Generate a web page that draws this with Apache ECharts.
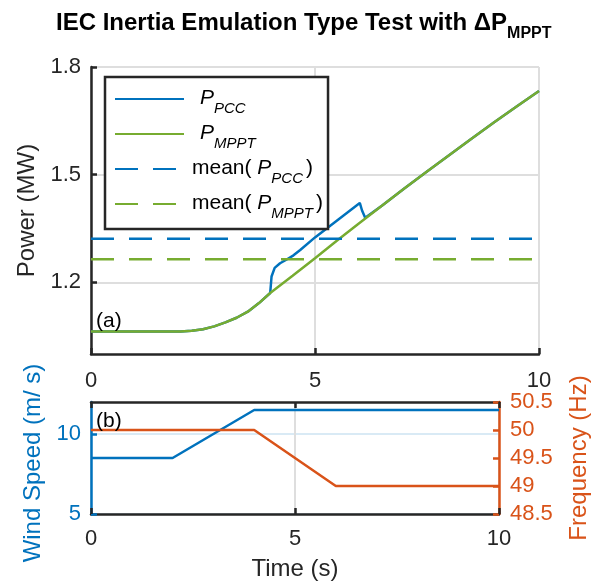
<!DOCTYPE html>
<html><head><meta charset="utf-8">
<script src="https://cdn.jsdelivr.net/npm/echarts@6/dist/echarts.min.js"></script>
<style>html,body{margin:0;padding:0;background:#fff}#c{width:603px;height:584px}</style>
</head><body><div id="c"></div>
<script>
// ---- data ----
const timeMPPT  = [0,0.5,1,1.5,2,2.25,2.5,2.75,3,3.25,3.5,3.75,4,4.5,5,5.5,6,6.5,7,7.5,8,8.5,9,9.5,10];
const powerMPPT = [1.063,1.063,1.063,1.063,1.063,1.065,1.069,1.077,1.088,1.101,1.118,1.142,1.170,1.218,1.267,1.317,1.366,1.414,1.462,1.509,1.555,1.601,1.646,1.690,1.733];
const timePCC   = [0,0.5,1,1.5,2,2.25,2.5,2.75,3,3.25,3.5,3.75,4,4.03,4.1,4.22,4.35,4.52,4.67,5,5.5,6,6.05,6.12,6.5,7,7.5,8,8.5,9,9.5,10];
const powerPCC  = [1.063,1.063,1.063,1.063,1.063,1.065,1.069,1.077,1.088,1.101,1.118,1.142,1.170,1.216,1.240,1.253,1.262,1.275,1.290,1.325,1.373,1.421,1.400,1.380,1.414,1.462,1.509,1.555,1.601,1.646,1.690,1.733];
const meanTime  = [0,10];
const meanPCC   = [1.321,1.321];
const meanMPPT  = [1.264,1.264];
const windTime  = [0,2,4,10];
const windSpeed = [8.5,8.5,11.5,11.5];
const freqTime  = [0,4,6,10];
const frequency = [50,50,49,49];
const powerTicks = [1.2,1.5,1.8];
const windTicks  = [5,10];

// ---- style ----
const blue='#0072BD', green='#77AC30', orange='#D95319', dark='#262626';
const gridGray='#dedede', gridBlue='#d9eaf5';
const F='"Liberation Sans", Arial, Helvetica, sans-serif';
const TS=22, NS=24, LS=21, LW=2.5, AW=2.5;
const pairs=(xs,ys)=>xs.map((x,i)=>[x,ys[i]]);

const chart=echarts.init(document.getElementById('c'),null,{renderer:'canvas'});
const legendNames={PPCC:'{sp|}{i|P}{s|PCC}',PMPPT:'{sp|}{i|P}{s|MPPT}',meanPCC:'{n|mean( }{i|P}{s|PCC}{n|)}',meanMPPT:'{n|mean( }{i|P}{s|MPPT}{n|)}'};

const baseX={type:'value',min:0,max:10,interval:5};
const option={
  animation:false,
  textStyle:{fontFamily:F},
  title:{
    text:'{t|IEC Inertia Emulation Type Test with }{t|ΔP}{s|MPPT}',
    left:56, top:11, padding:0,
    textStyle:{rich:{
      t:{fontFamily:F,fontWeight:'bold',fontSize:24,color:'#000',lineHeight:26,verticalAlign:'top'},
      s:{fontFamily:F,fontWeight:'bold',fontSize:16,color:'#000',lineHeight:16,padding:[15,0,0,0],verticalAlign:'top'}
    }}
  },
  legend:{
    left:105, top:77, orient:'vertical', padding:[11,5,8,9], itemGap:7,
    itemWidth:69, itemHeight:14, backgroundColor:'#fff', borderColor:dark, borderWidth:2.5,
    selectedMode:false,
    itemStyle:{opacity:0},
    data:['PPCC','PMPPT','meanPCC','meanMPPT'],
    formatter:n=>legendNames[n],
    textStyle:{fontFamily:F,fontSize:LS,color:'#000',rich:{
      sp:{width:11,fontSize:LS,lineHeight:22},
      n:{fontFamily:F,fontSize:LS,color:'#000',lineHeight:22,verticalAlign:'top',padding:[0,0,0,3]},
      i:{fontFamily:F,fontSize:LS,fontStyle:'italic',color:'#000',lineHeight:22,verticalAlign:'top'},
      s:{fontFamily:F,fontSize:15,fontStyle:'italic',color:'#000',lineHeight:14,padding:[13,0,0,0],verticalAlign:'top'}
    }}
  },
  grid:[{left:91,right:64,top:67,bottom:230},{left:91,right:104,top:402,bottom:70}],
  xAxis:[
    Object.assign({},baseX,{gridIndex:0,position:'bottom',
      axisLine:{onZero:false,lineStyle:{color:dark,width:AW}},
      axisTick:{inside:true,length:6,lineStyle:{color:dark,width:AW}},
      axisLabel:{color:dark,fontSize:TS,fontFamily:F,margin:16},
      splitLine:{show:true,lineStyle:{color:gridGray,width:2}}}),
    Object.assign({},baseX,{gridIndex:1,position:'bottom',
      name:'Time (s)',nameLocation:'middle',nameGap:43,
      nameTextStyle:{color:dark,fontSize:NS,fontFamily:F},
      axisLine:{onZero:false,lineStyle:{color:dark,width:AW}},
      axisTick:{inside:true,length:6,lineStyle:{color:dark,width:AW}},
      axisLabel:{color:dark,fontSize:TS,fontFamily:F,margin:14},
      splitLine:{show:true,lineStyle:{color:gridGray,width:2}}}),
    Object.assign({},baseX,{gridIndex:1,position:'top',
      axisLine:{onZero:false,lineStyle:{color:dark,width:AW}},
      axisTick:{inside:true,length:6,lineStyle:{color:dark,width:AW}},
      axisLabel:{show:false},splitLine:{show:false}})
  ],
  yAxis:[
    {type:'value',gridIndex:0,min:1.0,max:1.8,position:'left',
      name:'Power (MW)',nameLocation:'middle',nameGap:50,nameRotate:90,
      nameTextStyle:{color:dark,fontSize:NS,fontFamily:F},
      axisLine:{show:true,onZero:false,lineStyle:{color:dark,width:AW}},
      axisTick:{show:true,inside:true,length:6,customValues:powerTicks,lineStyle:{color:dark,width:AW}},
      axisLabel:{color:dark,fontSize:TS,fontFamily:F,margin:10,customValues:powerTicks,formatter:v=>v.toFixed(1)},
      splitLine:{show:true,lineStyle:{color:gridGray,width:2}}},
    {type:'value',gridIndex:1,min:5,max:12,position:'left',
      name:'Wind Speed (m/ s)',nameLocation:'middle',nameGap:46,nameRotate:90,
      nameTextStyle:{color:blue,fontSize:NS,fontFamily:F,padding:[0,10,0,0]},
      axisLine:{show:true,onZero:false,lineStyle:{color:blue,width:AW}},
      axisTick:{show:true,inside:true,length:6,customValues:windTicks,lineStyle:{color:blue,width:AW}},
      axisLabel:{color:blue,fontSize:TS,fontFamily:F,margin:10,customValues:windTicks},
      splitLine:{show:true,lineStyle:{color:gridBlue,width:2}}},
    {type:'value',gridIndex:1,min:48.5,max:50.5,interval:0.5,position:'right',
      name:'Frequency (Hz)',nameLocation:'middle',nameGap:68,nameRotate:90,
      nameTextStyle:{color:orange,fontSize:NS,fontFamily:F},
      axisLine:{show:true,onZero:false,lineStyle:{color:orange,width:AW}},
      axisTick:{show:true,inside:true,length:6,lineStyle:{color:orange,width:AW}},
      axisLabel:{color:orange,fontSize:TS,fontFamily:F,margin:11},
      splitLine:{show:false}}
  ],
  series:[
    {name:'PPCC',type:'line',xAxisIndex:0,yAxisIndex:0,data:pairs(timePCC,powerPCC),symbol:'none',
      lineStyle:{color:blue,width:LW},itemStyle:{color:blue}},
    {name:'PMPPT',type:'line',xAxisIndex:0,yAxisIndex:0,data:pairs(timeMPPT,powerMPPT),symbol:'none',
      lineStyle:{color:green,width:LW},itemStyle:{color:green}},
    {name:'meanPCC',type:'line',xAxisIndex:0,yAxisIndex:0,data:pairs(meanTime,meanPCC),symbol:'none',
      lineStyle:{color:blue,width:LW,type:[23,15]},itemStyle:{color:blue}},
    {name:'meanMPPT',type:'line',xAxisIndex:0,yAxisIndex:0,data:pairs(meanTime,meanMPPT),symbol:'none',
      lineStyle:{color:green,width:LW,type:[23,15]},itemStyle:{color:green}},
    {name:'Wind',type:'line',xAxisIndex:1,yAxisIndex:1,data:pairs(windTime,windSpeed),symbol:'none',
      lineStyle:{color:blue,width:LW},itemStyle:{color:blue}},
    {name:'Frequency',type:'line',xAxisIndex:1,yAxisIndex:2,data:pairs(freqTime,frequency),symbol:'none',
      lineStyle:{color:orange,width:LW},itemStyle:{color:orange}}
  ],
  graphic:[
    {type:'text',left:96,top:311,z:100,style:{text:'(a)',font:LS+'px '+F,fill:'#000'}},
    {type:'text',left:96,top:411,z:100,style:{text:'(b)',font:LS+'px '+F,fill:'#000'}}
  ]
};
chart.setOption(option);
</script>
</body></html>
